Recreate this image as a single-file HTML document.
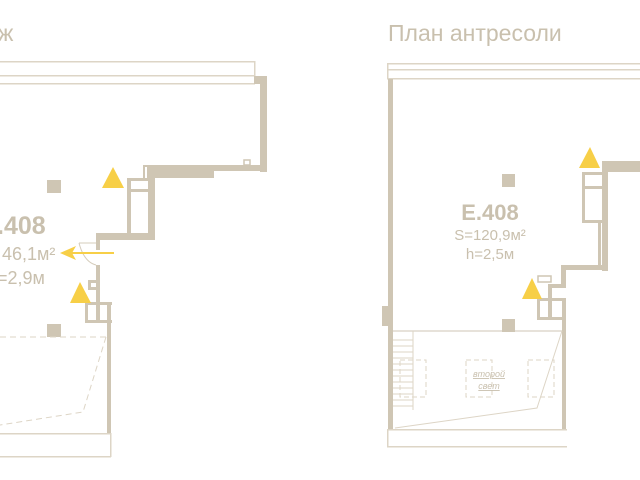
<!DOCTYPE html>
<html><head><meta charset="utf-8"><style>
html,body{margin:0;padding:0;background:#fff;width:640px;height:480px;overflow:hidden}
svg{display:block}
text{font-family:"Liberation Sans",sans-serif;fill:#c9c0ae}
</style></head><body>
<svg width="640" height="480" viewBox="0 0 640 480" xmlns="http://www.w3.org/2000/svg">
<text x="-2" y="41" font-size="23">ж</text>
<text x="388" y="41" font-size="23">План антресоли</text>

<!-- LEFT PLAN -->
<g fill="#cfc6b4" stroke="none">
  <rect x="0" y="61" width="255" height="1.5" fill="#ddd5c6"/>
  <rect x="254" y="61" width="1.5" height="16" fill="#ddd5c6"/>
  <rect x="0" y="75" width="255" height="1.5" fill="#ddd5c6"/>
  <rect x="0" y="83" width="255" height="1.5" fill="#ddd5c6"/>
  <rect x="254" y="76" width="13" height="8"/>
  <rect x="260" y="76" width="7" height="96"/>
  <rect x="143" y="165" width="124" height="2"/>
  <rect x="143" y="165" width="2" height="13"/>
  <rect x="147" y="167" width="120" height="4"/>
  <rect x="147" y="171" width="67" height="7"/>
  <rect x="148" y="171" width="7" height="69"/>
  <rect x="127" y="178" width="21" height="3"/>
  <rect x="127" y="178" width="4" height="59"/>
  <rect x="127" y="189" width="21" height="3"/>
  <rect x="96" y="233" width="59" height="7"/>
  <rect x="96" y="233" width="4" height="17"/>
  <rect x="96" y="265" width="4" height="58"/>
  <rect x="88" y="280" width="9" height="3"/>
  <rect x="88" y="280" width="3" height="9"/>
  <rect x="88" y="287" width="9" height="3"/>
  <rect x="85" y="302" width="27" height="3"/>
  <rect x="85" y="302" width="3" height="21"/>
  <rect x="85" y="320" width="27" height="3"/>
  <rect x="107" y="302" width="4" height="131"/>
  <rect x="0" y="433" width="111" height="1.5" fill="#ddd5c6"/>
  <rect x="0" y="456" width="111" height="1.5" fill="#ddd5c6"/>
  <rect x="110" y="433" width="1.5" height="24" fill="#ddd5c6"/>
  <rect x="47" y="180" width="14" height="13"/>
  <rect x="47" y="324" width="14" height="13"/>
</g>
<rect x="244" y="160" width="6" height="5" fill="none" stroke="#cfc6b4" stroke-width="1.5"/>
<path d="M79 243 H96 M79 243 Q84 262 96 265" fill="none" stroke="#d5ccbb" stroke-width="1"/>
<path d="M0 337 H106 M106 337 L83 412 L0 425" fill="none" stroke="#ddd5c6" stroke-width="1" stroke-dasharray="6 4"/>
<g fill="#f7cf47">
  <polygon points="113,167 124,188 102,188"/>
  <polygon points="80,282 91,303 70,303"/>
</g>
<path d="M114 253 H66" stroke="#f7cf47" stroke-width="2"/>
<polygon points="60,253 76,246 72,253 76,260" fill="#f7cf47"/>
<text x="-3" y="234" font-size="25" font-weight="bold">.408</text>
<text x="2" y="260" font-size="18">46,1м²</text>
<text x="-3" y="284" font-size="18">=2,9м</text>

<!-- RIGHT PLAN -->
<g fill="#cfc6b4">
  <rect x="387" y="63" width="253" height="1.5" fill="#ddd5c6"/>
  <rect x="387" y="69" width="253" height="1.5" fill="#ddd5c6"/>
  <rect x="387" y="78" width="253" height="1.5" fill="#ddd5c6"/>
  <rect x="387" y="63" width="1.5" height="16" fill="#ddd5c6"/>
  <rect x="388" y="79" width="5" height="350"/>
  <rect x="382" y="306" width="6" height="20"/>
  <rect x="602" y="161" width="38" height="11"/>
  <rect x="602" y="161" width="6" height="110"/>
  <rect x="582" y="172" width="3" height="51"/>
  <rect x="582" y="172" width="20" height="3"/>
  <rect x="582" y="186" width="20" height="3"/>
  <rect x="582" y="220" width="20" height="3"/>
  <rect x="598" y="222" width="3" height="45"/>
  <rect x="561" y="265" width="47" height="5"/>
  <rect x="561" y="265" width="5" height="23"/>
  <rect x="548" y="284" width="18" height="4"/>
  <rect x="548" y="284" width="4" height="36"/>
  <rect x="537" y="298" width="28" height="3"/>
  <rect x="537" y="298" width="3" height="22"/>
  <rect x="537" y="317" width="28" height="3"/>
  <rect x="562" y="298" width="4" height="131"/>
  <rect x="502" y="174" width="13" height="13"/>
  <rect x="502" y="319" width="13" height="13"/>
  <rect x="387" y="429" width="180" height="1.5" fill="#ddd5c6"/>
  <rect x="387" y="446" width="180" height="1.5" fill="#ddd5c6"/>
  <rect x="387" y="429" width="1.5" height="18" fill="#ddd5c6"/>
</g>
<rect x="538" y="276" width="13" height="6" fill="none" stroke="#cfc6b4" stroke-width="1.5"/>
<path d="M393 331 H562" stroke="#cfc6b4" stroke-width="1"/>
<g stroke="#ddd5c6" stroke-width="1" fill="none">
  <path d="M413 331 V410 M393 340 H413 M393 346 H413 M393 352 H413 M393 358 H413 M393 364 H413 M393 370 H413 M393 376 H413 M393 382 H413 M393 388 H413 M393 394 H413 M393 400 H413 M393 406 H413"/>
  <path d="M562 331 L537 408 L395 428"/>
  <g stroke-dasharray="5 3">
    <rect x="400" y="360" width="26" height="37"/>
    <rect x="466" y="360" width="26" height="37"/>
    <rect x="528" y="360" width="26" height="37"/>
  </g>
</g>
<g fill="#f7cf47">
  <polygon points="590,147 600,168 579,168"/>
  <polygon points="532,278 542,299 522,299"/>
</g>
<text x="490" y="220" font-size="22" font-weight="bold" text-anchor="middle">E.408</text>
<text x="490" y="240" font-size="15" text-anchor="middle">S=120,9м²</text>
<text x="490" y="259" font-size="15" text-anchor="middle">h=2,5м</text>
<text x="489" y="377" font-size="9" font-style="italic" text-anchor="middle" text-decoration="underline" fill="#d5ccbb">второй</text>
<text x="489" y="389" font-size="9" font-style="italic" text-anchor="middle" text-decoration="underline" fill="#d5ccbb">свет</text>
</svg>
</body></html>
